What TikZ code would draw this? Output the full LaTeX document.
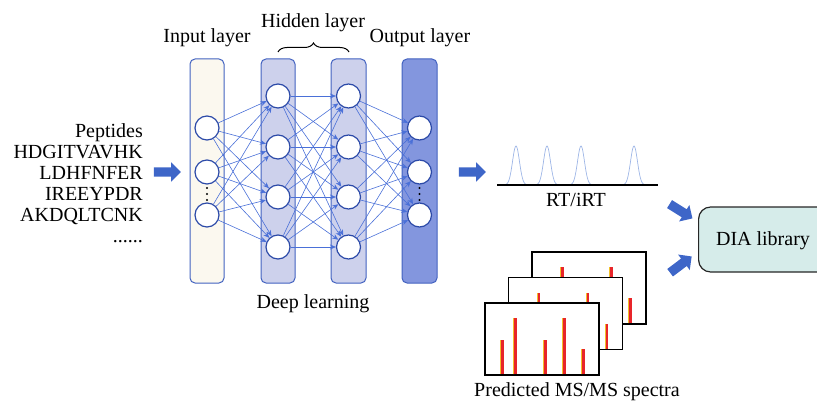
\documentclass[tikz,border=0pt]{standalone}
\usepackage{fontspec}
\setmainfont{Liberation Serif}
\usetikzlibrary{shapes.arrows,arrows.meta,decorations.pathreplacing}
\definecolor{colborder}{HTML}{4262C0}
\definecolor{infill}{HTML}{FBF8EF}
\definecolor{hidfill}{HTML}{CDD1EC}
\definecolor{outfill}{HTML}{8396DE}
\definecolor{circborder}{HTML}{2C4AA8}
\definecolor{edgecol}{HTML}{4A70D8}
\definecolor{arrcol}{HTML}{3E66C8}
\definecolor{diafill}{HTML}{D6ECEA}
\definecolor{rtpeak}{HTML}{9DB5E6}
\definecolor{specred}{HTML}{E8252A}
\definecolor{specyel}{HTML}{F2C02A}
\tikzset{
  lbl/.style={font=\fontsize{20}{24}\selectfont, inner sep=0pt, anchor=base},
  column/.style={draw=colborder, line width=1pt, rounded corners=5pt},
  neuron/.style={circle, draw=circborder, fill=white, line width=1.2pt, minimum size=24pt, inner sep=0pt},
  edge/.style={draw=edgecol, line width=0.6pt, -{Stealth[length=6pt,width=5pt]}},
  blockarrow/.style={single arrow, fill=arrcol, draw=none, inner sep=4.5pt, single arrow head extend=5pt, minimum height=27pt, single arrow tip angle=90},
  frame/.style={draw=black, fill=white, line width=1.2pt},
  dotmark/.style={circle, fill=black, inner sep=0pt, minimum size=2.2pt},
}
\begin{document}
\begin{tikzpicture}[x=1pt,y=-1pt]
\useasboundingbox (0,0) rectangle (817,401);
\clip (0,0) rectangle (817,401);
% columns
\draw[column, fill=infill] (190,59) rectangle (224,283);
\draw[column, fill=hidfill] (261,59) rectangle (295,283);
\draw[column, fill=hidfill] (331,59) rectangle (366,283);
\draw[column, fill=outfill] (402,59) rectangle (437,283);
% neurons
\foreach \n/\y in {1/128,2/172,3/215} {
  \node[neuron] (i\n) at (207,\y) {};
  \node[neuron] (o\n) at (419.5,\y) {};
}
\foreach \n/\y in {1/96,2/147,3/197,4/247} {
  \node[neuron] (h\n) at (278,\y) {};
  \node[neuron] (g\n) at (348.5,\y) {};
}
% dots
\foreach \c in {207,419.5} {
  \foreach \yy in {188,194,200} {
    \node[dotmark] at (\c,\yy) {};
  }
}
% edges
\foreach \a in {1,2,3} { \foreach \b in {1,2,3,4} { \draw[edge] (i\a) -- (h\b); } }
\foreach \a in {1,2,3,4} { \foreach \b in {1,2,3,4} { \draw[edge] (h\a) -- (g\b); } }
\foreach \a in {1,2,3,4} { \foreach \b in {1,2,3} { \draw[edge] (g\a) -- (o\b); } }
% labels
\node[lbl] (inl) at (207,43) {Input layer};
\node[lbl] (hidl) at (313,28) {Hidden layer};
\node[lbl] (outl) at (420,43) {Output layer};
\node[lbl] (deep) at (313,308) {Deep learning};
\coordinate (bl) at (278,52);
\coordinate (br) at (349,52);
\draw[line width=1pt, decorate, decoration={brace, amplitude=9pt}] (bl) -- (br);
% peptides
\node[lbl, anchor=base east] (p0) at (143,137.5) {Peptides};
\node[lbl, anchor=base east] (p1) at (143,158.5) {HDGITVAVHK};
\node[lbl, anchor=base east] (p2) at (143,179.5) {LDHFNFER};
\node[lbl, anchor=base east] (p3) at (143,200.5) {IREEYPDR};
\node[lbl, anchor=base east] (p4) at (143,221.5) {AKDQLTCNK};
\node[lbl, anchor=base east] (p5) at (143,242.5) {......};
% block arrows
\node[blockarrow] (a1) at (165,172) {};
\node[blockarrow] (a2) at (470,172) {};
\node[blockarrow, rotate=-32] (a3) at (679,210) {};
\node[blockarrow, rotate=37] (a4) at (679,266) {};
% RT panel
\coordinate (rtl) at (497,185);
\coordinate (rtr) at (658,185);
\foreach \px in {516,547,581,634} {
  \draw[rtpeak, line width=0.7pt, domain=-11:11, samples=45, smooth] plot ({\px+\x}, {185-39*exp(-\x*\x/24)});
}
\draw[black, line width=1.3pt] (rtl) -- (rtr);
\node[lbl] (rtlab) at (576,207) {RT/iRT};
% DIA library
\node[draw=black!85, fill=diafill, line width=1.2pt, rounded corners=12pt, minimum width=140pt, minimum height=65pt, anchor=west, inner sep=0pt] (dia) at (698,239.5) {};
\node[lbl] (dialab) at (763,245) {DIA library};
% spectra frames
\foreach \fx/\fy [count=\k] in {532/252, 508.5/277.5, 485/303} {
  \draw[frame] (\fx,\fy) rectangle ++(114,72);
  \foreach \dx/\h in {17/34,30/56,60/34,79/56,98/25} {
    \draw[specyel, line width=1pt] (\fx+\dx-1.3,\fy+71.4) -- ++(0,-\h);
    \draw[specred, line width=2.4pt] (\fx+\dx+0.3,\fy+71.4) -- ++(0,-\h);
  }
}
\node[lbl] (speclab) at (577,396.5) {Predicted MS/MS spectra};
\end{tikzpicture}
\end{document}
